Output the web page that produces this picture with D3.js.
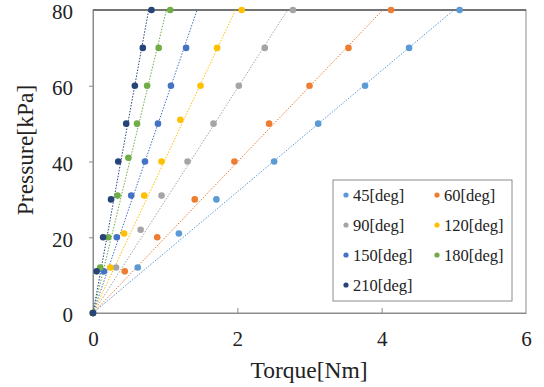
<!DOCTYPE html>
<html>
<head>
<meta charset="utf-8">
<script src="https://cdn.jsdelivr.net/npm/d3@7"></script>
<style>
  body { margin: 0; background: #fff; }
  svg, svg text { font-family: "Times New Roman", "Liberation Serif", serif; }
</style>
</head>
<body>
<div id="chart"></div>
<script>
// series labels and colours
const seriesNames = ["45[deg]", "60[deg]", "90[deg]", "120[deg]", "150[deg]", "180[deg]", "210[deg]"];
const seriesColors = ["#5B9BD5", "#ED7D31", "#A5A5A5", "#FFC000", "#4472C4", "#70AD47", "#264478"];

// torque [Nm] per series
const torque45  = [0, 0.62, 1.19, 1.71, 2.51, 3.12, 3.77, 4.38, 5.08];
const torque60  = [0, 0.44, 0.89, 1.41, 1.96, 2.44, 3.00, 3.54, 4.13];
const torque90  = [0, 0.32, 0.66, 0.95, 1.31, 1.67, 2.02, 2.38, 2.77];
const torque120 = [0, 0.24, 0.43, 0.71, 0.95, 1.21, 1.49, 1.72, 2.06];
const torque150 = [0, 0.15, 0.33, 0.53, 0.72, 0.90, 1.08, 1.29];
const torque180 = [0, 0.10, 0.21, 0.34, 0.49, 0.61, 0.75, 0.91, 1.07];
const torque210 = [0, 0.05, 0.14, 0.25, 0.35, 0.46, 0.58, 0.69, 0.81];

// pressure [kPa] per series
const press45  = [0, 12, 21, 30, 40, 50, 60, 70, 80];
const press60  = [0, 11, 20, 30, 40, 50, 60, 70, 80];
const press90  = [0, 12, 22, 31, 40, 50, 60, 70, 80];
const press120 = [0, 12, 21, 31, 40, 51, 60, 70, 80];
const press150 = [0, 11, 20, 31, 40, 50, 60, 70];
const press180 = [0, 12, 20, 31, 41, 50, 60, 70, 80];
const press210 = [0, 11, 20, 30, 40, 50, 60, 70, 80];

const xTicks = [0, 2, 4, 6];
const yTicks = [0, 20, 40, 60, 80];

const torques = [torque45, torque60, torque90, torque120, torque150, torque180, torque210];
const pressures = [press45, press60, press90, press120, press150, press180, press210];

const series = seriesNames.map((name, i) => ({
  name: name,
  color: seriesColors[i],
  points: torques[i].map((t, j) => ({x: t, y: pressures[i][j]}))
}));

const width = 544, height = 387;
const margin = {top: 10, right: 18, bottom: 74, left: 93};
const innerW = width - margin.left - margin.right;
const innerH = height - margin.top - margin.bottom;

const svg = d3.select("#chart").append("svg")
  .attr("width", width)
  .attr("height", height);

const g = svg.append("g")
  .attr("transform", "translate(" + margin.left + "," + margin.top + ")");

const x = d3.scaleLinear().domain([0, 6]).range([0, innerW]);
const y = d3.scaleLinear().domain([0, 80]).range([innerH, 0]);

// plot frame
g.append("rect")
  .attr("width", innerW)
  .attr("height", innerH)
  .attr("fill", "none")
  .attr("stroke", "#8c8c8c")
  .attr("stroke-width", 1);

g.append("line")
  .attr("x1", 0).attr("x2", innerW)
  .attr("y1", y(80)).attr("y2", y(80))
  .attr("stroke", "#595959")
  .attr("stroke-width", 1.5);

// axes
const xAxis = g.append("g")
  .attr("transform", "translate(0," + innerH + ")")
  .call(d3.axisBottom(x).tickValues(xTicks).tickFormat(d3.format("d"))
    .tickSizeInner(-5).tickSizeOuter(0).tickPadding(18));
const yAxis = g.append("g")
  .call(d3.axisLeft(y).tickValues(yTicks).tickFormat(d3.format("d"))
    .tickSizeInner(4).tickSizeOuter(0).tickPadding(16));

[xAxis, yAxis].forEach(ax => {
  ax.attr("font-family", null).attr("font-size", null);
  ax.select(".domain").attr("stroke", "#8c8c8c");
  ax.selectAll(".tick line").attr("stroke", "#8c8c8c");
  ax.selectAll("text")
    .attr("fill", "#222")
    .style("font-size", "21px");
});
yAxis.selectAll("text").attr("dy", "0.42em");
xAxis.selectAll(".tick").filter(d => d === 0 || d === 6).select("line").remove();
yAxis.selectAll(".tick").filter(d => d === 0 || d === 80).select("line").remove();

// axis titles
svg.append("text")
  .attr("x", 309)
  .attr("y", 378)
  .attr("text-anchor", "middle")
  .attr("fill", "#222")
  .style("font-size", "23.5px")
  .text("Torque[Nm]");

svg.append("text")
  .attr("transform", "translate(33,150) rotate(-90)")
  .attr("text-anchor", "middle")
  .attr("fill", "#222")
  .style("font-size", "23.5px")
  .text("Pressure[kPa]");

// trendlines through origin, clipped to the plot
g.append("clipPath").attr("id", "plotClip")
  .append("rect").attr("width", innerW).attr("height", innerH);

const trend = g.append("g").attr("clip-path", "url(#plotClip)");
series.forEach(s => {
  const sxy = d3.sum(s.points, p => p.x * p.y);
  const sxx = d3.sum(s.points, p => p.x * p.x);
  const slope = sxy / sxx;
  const xEnd = 82 / slope;
  trend.append("line")
    .attr("x1", x(0)).attr("y1", y(0))
    .attr("x2", x(xEnd)).attr("y2", y(slope * xEnd))
    .attr("stroke", s.color)
    .attr("stroke-width", 1)
    .attr("stroke-dasharray", "1.5,1.5");
});

// points
series.forEach(s => {
  g.append("g").selectAll("circle")
    .data(s.points)
    .enter()
    .append("circle")
    .attr("cx", d => x(d.x))
    .attr("cy", d => y(d.y))
    .attr("r", 3.3)
    .attr("fill", s.color);
});

// legend
const legend = svg.append("g").attr("transform", "translate(333,180)");
legend.append("rect")
  .attr("width", 179)
  .attr("height", 121)
  .attr("fill", "#fff")
  .attr("stroke", "#8c8c8c");

series.forEach((s, i) => {
  const col = i % 2, row = Math.floor(i / 2);
  const item = legend.append("g")
    .attr("transform", "translate(" + (13 + col * 91) + "," + (15 + row * 30) + ")");
  item.append("circle").attr("r", 2.6).attr("fill", s.color);
  item.append("text")
    .attr("x", 7)
    .attr("dy", "0.35em")
    .attr("fill", "#222")
    .style("font-size", "16.5px")
    .text(s.name);
});
</script>
</body>
</html>
